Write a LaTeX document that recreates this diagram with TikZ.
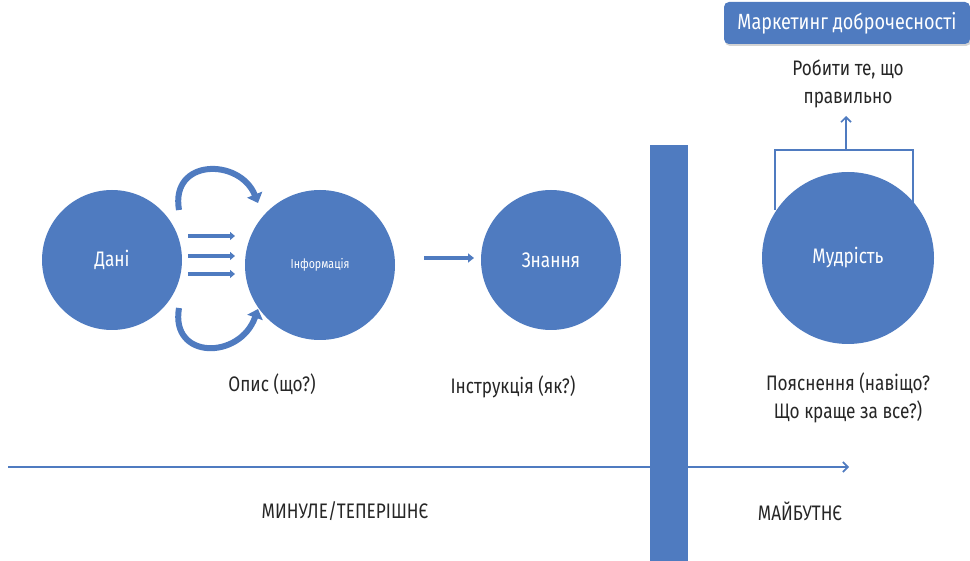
\documentclass[tikz,border=0pt]{standalone}
\usepackage{fontspec}
\setmainfont{Fira Sans}[FakeStretch=0.82]
\usetikzlibrary{arrows.meta,shadows,calc}
\definecolor{bl}{RGB}{79,123,192}
\begin{document}
\begin{tikzpicture}[x=1pt,y=-1pt,
  circ/.style={circle,fill=bl,text=white,inner sep=0pt,minimum size=#1},
  lbl/.style={font=\fontsize{21}{28}\selectfont,align=center,text=black!85},
  fat/.style={bl,line width=6pt,-{Triangle[length=9pt,width=16pt]}},
  thin/.style={bl,line width=1.6pt},
  thinarr/.style={bl,line width=1.6pt,-{Straight Barb[length=5pt,width=10pt]}}]
\useasboundingbox (0,0) rectangle (970,561);
% bar
\fill[bl] (650,145) rectangle (688,561);
% timeline
\coordinate (tl0) at (8,467);
\coordinate (tl1) at (849,467);
\draw[thinarr] (tl0) -- (tl1);
% circles
\node[circ=140pt] (dani) at (112,260) {\fontsize{21}{22}\selectfont Дані};
\node[circ=150pt] (info) at (320,265) {\fontsize{13}{15}\selectfont Інформація};
\node[circ=140pt] (zn) at (551,260) {\fontsize{21}{22}\selectfont Знання};
\node[circ=172pt] (mud) at (848,258) {\fontsize{21}{22}\selectfont Мудрість};
% arrows between dani and info
\foreach \y/\n in {236/a,256/b,274/c}{
  \coordinate (s\n) at (188,\y);
  \coordinate (e\n) at (235,\y);
  \draw[bl,line width=3.2pt,-{Triangle[length=5pt,width=8pt]}] (s\n) -- (e\n);
}
\coordinate (ct0) at (179,210);
\coordinate (ct1) at (258,203);
\draw[fat] (ct0) .. controls (170,158) and (240,158) .. (ct1);
\coordinate (cb0) at (179,308);
\coordinate (cb1) at (258,309);
\draw[fat] (cb0) .. controls (170,360) and (240,360) .. (cb1);
% info -> znannya
\coordinate (iz0) at (424,258);
\coordinate (iz1) at (474,258);
\draw[bl,line width=4pt,-{Triangle[length=6pt,width=9pt]}] (iz0) -- (iz1);
% bracket
\coordinate (br0) at (775,210);
\coordinate (br1) at (913,205);
\draw[thin] (br0) -- (775,150) -- (913,150) -- (br1);
\coordinate (up0) at (846,150);
\coordinate (up1) at (846,116);
\draw[thinarr] (up0) -- (up1);
% top box
\node[fill=bl,rounded corners=5pt,text=white,minimum width=246pt,minimum height=42pt,
  drop shadow={shadow xshift=1pt,shadow yshift=-2pt,opacity=0.35},font=\fontsize{22}{24}\selectfont] (mk) at (847,23) {Маркетинг доброчесності};
\node[lbl] (rob) at (848,84) {Робити те, що\\правильно};
% labels
\node[lbl] (op) at (272,384) {Опис (що?)};
\node[lbl] (ins) at (513,387) {Інструкція (як?)};
\node[lbl,align=center] (poy) at (848,398) {Пояснення (навіщо?\\Що краще за все?)};
\node[lbl] (past) at (345,511) {МИНУЛЕ/ТЕПЕРІШНЄ};
\node[lbl] (fut) at (800,511) {МАЙБУТНЄ};
\end{tikzpicture}
\end{document}
